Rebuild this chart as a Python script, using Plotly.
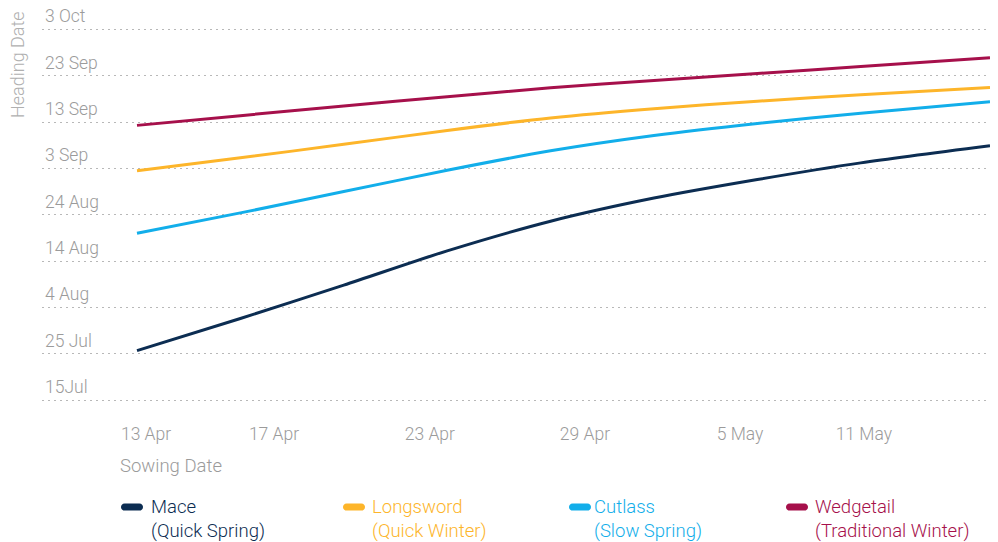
import plotly.graph_objects as go

# ---- data ----
sowing_days = [0, 4, 8, 12, 16, 20, 24, 28, 33]          # days after 13 Apr
mace      = [10.65, 17.6, 24.8, 32.2, 38.6, 43.6, 47.6, 51.2, 54.9]   # days after 15 Jul
longsword = [49.5, 52.3, 55.2, 58.2, 60.9, 62.9, 64.5, 65.9, 67.5]
cutlass   = [36.0, 40.4, 45.0, 49.6, 53.8, 57.1, 59.7, 61.9, 64.4]
wedgetail = [59.3, 61.4, 63.5, 65.5, 67.4, 69.0, 70.5, 72.0, 73.9]

series_names = ["Mace", "Longsword", "Cutlass", "Wedgetail"]
series_types = ["(Quick Spring)", "(Quick Winter)", "(Slow Spring)", "(Traditional Winter)"]
series_colors = ["#0c2d52", "#fdb52a", "#12aeea", "#a6104b"]

x_tick_pos = [0.35, 5.3, 11.33, 17.33, 23.33, 28.12]
x_tick_text = ["13 Apr", "17 Apr", "23 Apr", "29 Apr", "5 May", "11 May"]
y_tick_pos = [0, 10, 20, 30, 40, 50, 60, 70, 80]
y_tick_text = ["15Jul", "25 Jul", "4 Aug", "14 Aug", "24 Aug", "3 Sep", "13 Sep", "23 Sep", "3 Oct"]

OFF = 8  # page body margin
W, H = 998 - OFF, 542 - OFF
L, R, T, B = 34, 0, 0, 137
PB = H - B  # plot bottom in figure px
FONT = "Roboto"
GREY = "#9b9b9b"

fig = go.Figure()
all_series = [mace, longsword, cutlass, wedgetail]
for name, vals, col in zip(series_names, all_series, series_colors):
    fig.add_trace(go.Scatter(x=sowing_days, y=vals, mode="lines", name=name,
                             line=dict(color=col, width=3, shape="spline", smoothing=0.8),
                             showlegend=False))

# y tick labels sit above their gridlines (drawn as annotations so the top one is not hidden)
for v, txt in zip(y_tick_pos, y_tick_text):
    fig.add_annotation(xref="paper", yref="y", x=0, y=v, xanchor="left", yanchor="bottom",
                       xshift=1, yshift=1, text=txt, showarrow=False,
                       font=dict(family=FONT, size=17.5, color=GREY, weight=300))

# manual legend (positions are window pixels)
leg_x = [121, 343, 569, 786]
leg_text_x = [151, 372, 594, 815]
leg_cy = 507
for i in range(4):
    x0 = leg_x[i] - OFF - L
    x1 = x0 + 22
    r = 3.6
    cy = -(leg_cy - OFF - PB)
    k = 1.333 * r
    path = (f"M {x0 + r},{cy + r} L {x1 - r},{cy + r} "
            f"C {x1 - r + k},{cy + r} {x1 - r + k},{cy - r} {x1 - r},{cy - r} "
            f"L {x0 + r},{cy - r} "
            f"C {x0 + r - k},{cy - r} {x0 + r - k},{cy + r} {x0 + r},{cy + r} Z")
    fig.add_shape(type="path", xref="paper", yref="paper", xsizemode="pixel", ysizemode="pixel",
                  xanchor=0, yanchor=0, path=path, fillcolor=series_colors[i], line=dict(width=0))
    fig.add_annotation(xref="paper", yref="paper", x=0, y=0, xanchor="left", yanchor="middle",
                       xshift=leg_text_x[i] - OFF - L - 2, yshift=-(519 - OFF - PB),
                       text=f"{series_names[i]}<br>{series_types[i]}", showarrow=False, align="left",
                       font=dict(family=FONT, size=18.5, color=series_colors[i], weight=300))

# axis titles
fig.add_annotation(xref="paper", yref="paper", x=0, y=0, xanchor="left", yanchor="middle",
                   xshift=120 - OFF - L - 2, yshift=-(466 - OFF - PB), text="Sowing Date", showarrow=False,
                   font=dict(family=FONT, size=18.5, color=GREY, weight=300))
fig.add_annotation(xref="paper", yref="paper", x=0, y=1, xanchor="center", yanchor="middle",
                   xshift=17 - OFF - L, yshift=-(65 - OFF - T), text="Heading Date", showarrow=False,
                   textangle=-90, font=dict(family=FONT, size=18, color="#b0b0b0", weight=300))

# y scale: 15 Jul gridline at window y=400, 3 Oct at window y=29.5
k_px = (400 - 29.5) / 80
y_top = 80 + (29.5 - OFF - T) / k_px
y_bot = -(PB - (400 - OFF)) / k_px

fig.update_layout(
    width=W, height=H, margin=dict(l=L, r=R, t=T, b=B),
    plot_bgcolor="white", paper_bgcolor="white",
    font=dict(family=FONT, size=17.5, color=GREY),
    xaxis=dict(range=[-3.675, 33.31], tickvals=x_tick_pos, ticktext=x_tick_text,
               showgrid=False, zeroline=False, showline=False,
               ticks="outside", ticklen=13, tickcolor="rgba(0,0,0,0)",
               tickfont=dict(family=FONT, size=17.5, color=GREY, weight=300)),
    yaxis=dict(range=[y_bot, y_top], tickvals=y_tick_pos, showticklabels=False,
               showgrid=True, gridcolor="#b8b8b8", gridwidth=1,
               griddash="2px,4px", zeroline=False, showline=False, ticks=""),
)

fig.write_html("out.html")
